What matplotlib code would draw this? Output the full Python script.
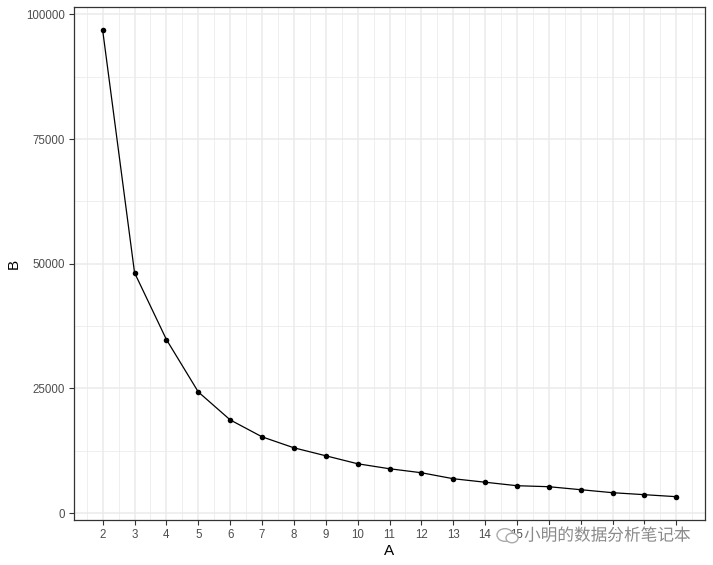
import matplotlib
matplotlib.use("Agg")
import matplotlib.pyplot as plt
import matplotlib.patheffects as pe
from matplotlib.patches import Circle
from matplotlib import font_manager as fm

A = [2, 3, 4, 5, 6, 7, 8, 9, 10, 11, 12, 13, 14, 15, 16, 17, 18, 19, 20]
B = [96800, 48200, 34800, 24300, 18700, 15300, 13100, 11500, 9900, 8900,
     8100, 6900, 6200, 5500, 5300, 4700, 4100, 3700, 3300]
x_ticks = list(range(2, 21))
y_ticks = [0, 25000, 50000, 75000, 100000]

# pick the regular (non-narrow) Liberation Sans
reg = None
for f in fm.fontManager.ttflist:
    if f.name == 'Liberation Sans' and f.style == 'normal' and f.weight in (400, 'normal', 'regular') \
            and 'Narrow' not in f.fname:
        reg = f.fname
        break
if reg:
    fm.fontManager.addfont(reg)
    fam = fm.FontProperties(fname=reg).get_name()
else:
    fam = 'DejaVu Sans'
plt.rcParams['font.family'] = [fam, 'DejaVu Sans']

fig = plt.figure(figsize=(7.13, 5.65), dpi=100)
ax = fig.add_axes([74/713, 45/565, (705-74)/713, (520-7)/565])

xr = max(A) - min(A)
ax.set_xlim(min(A) - 0.05*xr, max(A) + 0.05*xr)
yr = max(B) - min(B)
ax.set_ylim(min(B) - 0.05*yr, max(B) + 0.05*yr)

# grid
for xv in x_ticks:
    ax.axvline(xv, color='#EBEBEB', lw=1.1, zorder=0)
for xv in [v + 0.5 for v in range(1, 21)]:
    ax.axvline(xv, color='#EBEBEB', lw=0.55, zorder=0)
for yv in y_ticks:
    ax.axhline(yv, color='#EBEBEB', lw=1.1, zorder=0)
for yv in [12500, 37500, 62500, 87500]:
    ax.axhline(yv, color='#EBEBEB', lw=0.55, zorder=0)

ax.plot(A, B, color='black', lw=0.9, zorder=3)
ax.scatter(A, B, color='black', s=16, zorder=4, linewidths=0)

ax.set_xticks(x_ticks)
ax.set_xticklabels([str(v) for v in x_ticks])
ax.set_yticks(y_ticks)
ax.set_yticklabels([str(v) for v in y_ticks])
ax.tick_params(axis='both', length=3.5, width=0.8, color='#333333',
               labelcolor='#4D4D4D', labelsize=8.3, pad=3)
for s in ax.spines.values():
    s.set_color('#333333')
    s.set_linewidth(0.9)
ax.set_xlabel('A', fontsize=11, labelpad=2)
ax.set_ylabel('B', fontsize=11, labelpad=4)

# watermark
fig.text(524/713, 1 - 536/565, '小明的数据分析笔记本', fontsize=12,
         family=['Noto Sans CJK SC', 'DejaVu Sans'], color='#8A8A8A',
         va='center', ha='left',
         path_effects=[pe.withStroke(linewidth=3, foreground='white')])
fig.patches.append(Circle((505/713, 1 - 535/565), 8/713, transform=fig.transFigure,
                          fill=False, ec='#AAAAAA', lw=1.0))
fig.patches.append(Circle((512/713, 1 - 538/565), 6/713, transform=fig.transFigure,
                          fill=True, fc='white', ec='#AAAAAA', lw=1.0))

fig.savefig('out.png', dpi=100, facecolor='white')
